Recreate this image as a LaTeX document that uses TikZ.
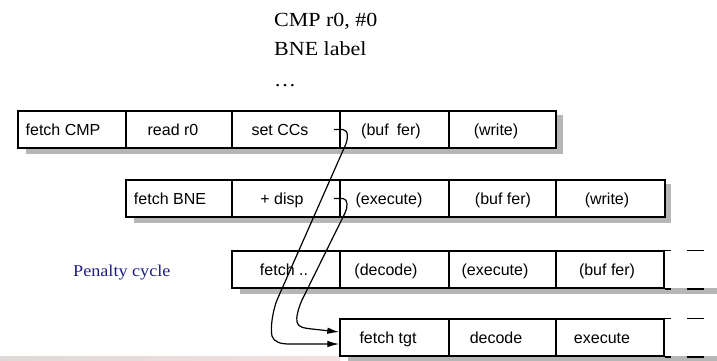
\documentclass[tikz,border=0pt]{standalone}
\usepackage{fontspec}
\setsansfont{Liberation Sans}
\newfontfamily\palfont{Liberation Serif}[FakeStretch=1.1]
\usetikzlibrary{arrows.meta}
\definecolor{shadowc}{RGB}{182,182,182}
\definecolor{penaltyc}{RGB}{30,30,130}
\definecolor{footl}{RGB}{224,216,216}
\definecolor{footr}{RGB}{244,224,224}
\tikzset{
  cellbox/.style={draw, line width=1.5pt, fill=white, inner sep=0pt, minimum height=37pt},
  celltext/.style={font=\sffamily\fontsize{16}{19}\selectfont, inner sep=0pt, anchor=base},
  codetext/.style={font=\palfont\fontsize{20}{24}\selectfont, inner sep=0pt, anchor=base west},
  flow/.style={line width=1.2pt, -{Latex[length=12pt,width=6.5pt]}},
  openedge/.style={line width=1.5pt},
}
\newcommand\mkcell[6]{%
  \node[cellbox, minimum width={(#3)-(#2)}] (#1) at ({((#2)+(#3))/2},#4) {};
  \node[celltext] (#1t) at (#5,{(#4)+5.5}) {#6};}
\begin{document}
\begin{tikzpicture}[x=1pt,y=-1pt]
\useasboundingbox (0,0) rectangle (717,360);
% footer strip
\shade[left color=footl, right color=footr] (0,356) rectangle (340,360);
% top code text
\node[codetext] (l1) at (274,26) {CMP r0, \#0};
\node[codetext] (l2) at (274,55) {BNE label};
\node[codetext] (l3) at (274,86) {…};
% penalty label
\node[font=\palfont\fontsize{16.5}{20}\selectfont, text=penaltyc, inner sep=0pt, anchor=base west] (pen) at (73,276) {Penalty cycle};
% shadows
\fill[shadowc] (26,115) rectangle (563,154);
\fill[shadowc] (134,184) rectangle (671,223);
\fill[shadowc] (240,288) rectangle (717,294);
\fill[shadowc] (348,356) rectangle (717,361);
% row 1
\mkcell{c11}{18}{126}{129.5}{63}{fetch CMP}
\mkcell{c12}{126}{232}{129.5}{173}{read r0}
\mkcell{c13}{232}{340}{129.5}{280}{set CCs}
\mkcell{c14}{340}{449}{129.5}{391}{(buf\hspace{0.5em}fer)}
\mkcell{c15}{449}{556}{129.5}{496}{(write)}
% row 2
\mkcell{c21}{126}{232}{198.5}{170}{fetch BNE}
\mkcell{c22}{232}{340}{198.5}{282}{+ disp}
\mkcell{c23}{340}{449}{198.5}{389}{(execute)}
\mkcell{c24}{449}{556}{198.5}{503}{(buf fer)}
\mkcell{c25}{556}{665}{198.5}{607}{(write)}
% row 3
\mkcell{c31}{232}{340}{269.5}{284}{fetch ..}
\mkcell{c32}{340}{449}{269.5}{386}{(decode)}
\mkcell{c33}{449}{556}{269.5}{495}{(execute)}
\mkcell{c34}{556}{664}{269.5}{607}{(buf fer)}
% row 4
\mkcell{c41}{340}{449}{337.5}{388}{fetch tgt}
\mkcell{c42}{449}{556}{337.5}{496}{decode}
\mkcell{c43}{556}{664}{337.5}{602}{execute}
% open ends
\draw[openedge] (c34.north east) -- ++(6,0) ++(16,0) -- ++(17,0) ++(13,0) -- ++(10,0);
\draw[openedge] (c34.south east) -- ++(6,0) ++(16,0) -- ++(17,0) ++(13,0) -- ++(10,0);
\draw[openedge] (c43.north east) -- ++(6,0) ++(16,0) -- ++(17,0) ++(13,0) -- ++(10,0);
\draw[openedge] (c43.south east) -- ++(6,0) ++(16,0) -- ++(17,0);
% arrows
\draw[flow] ([xshift=-7pt]c13.east) -- (343,129.5) .. controls (349,130) and (348,140) .. (345,146)
  -- (277,300) .. controls (273,310) and (270,328) .. (272,336)
  .. controls (274,342) and (280,344) .. (290,344) -- ([yshift=-6.5pt]c41.west);
\draw[flow] ([xshift=-7pt]c22.east) -- (343,198.5) .. controls (348,199) and (348,207) .. (345,213)
  -- (302,300) .. controls (298,309) and (296,318) .. (297,322)
  .. controls (298,327) and (303,328) .. (312,329) -- ([yshift=5.5pt]c41.west);
\end{tikzpicture}
\end{document}
